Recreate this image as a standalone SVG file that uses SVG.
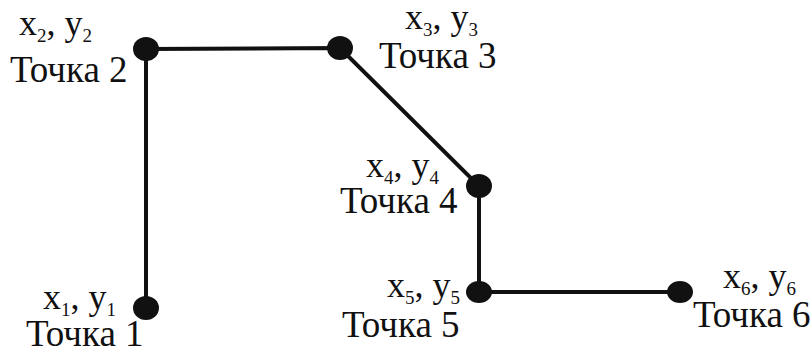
<svg xmlns="http://www.w3.org/2000/svg" width="812" height="350" viewBox="0 0 812 350">
<style>
.ln{stroke:#111;stroke-width:4;fill:none}
.pt{fill:#111}
.t{font-family:"Liberation Serif","Times New Roman",serif;font-size:37px;fill:#111}
.c{font-family:"Liberation Serif","Times New Roman",serif;font-size:36px;fill:#111}
.s{font-size:19px}
</style>
<rect width="812" height="350" fill="#fff"/>
<g id="connectors">
<polyline class="ln" points="146,308 146,49 340,48 479,186 479,292 680,292"/>
</g>
<g id="p1">
<ellipse class="pt" cx="146" cy="308" rx="13" ry="12"/>
<text class="c" x="43" y="309">x<tspan class="s" dy="7">1</tspan><tspan dy="-7">, y</tspan><tspan class="s" dy="7">1</tspan></text>
<text class="t" x="26" y="346">Точка 1</text>
</g>
<g id="p2">
<ellipse class="pt" cx="146" cy="49" rx="13" ry="12"/>
<text class="c" x="19" y="35">x<tspan class="s" dy="7">2</tspan><tspan dy="-7">, y</tspan><tspan class="s" dy="7">2</tspan></text>
<text class="t" x="10" y="82">Точка 2</text>
</g>
<g id="p3">
<ellipse class="pt" cx="340" cy="48" rx="13" ry="12"/>
<text class="c" x="405" y="29">x<tspan class="s" dy="7">3</tspan><tspan dy="-7">, y</tspan><tspan class="s" dy="7">3</tspan></text>
<text class="t" x="379" y="68">Точка 3</text>
</g>
<g id="p4">
<ellipse class="pt" cx="479" cy="186" rx="13" ry="12"/>
<text class="c" x="366" y="177">x<tspan class="s" dy="7">4</tspan><tspan dy="-7">, y</tspan><tspan class="s" dy="7">4</tspan></text>
<text class="t" x="340" y="213">Точка 4</text>
</g>
<g id="p5">
<ellipse class="pt" cx="479" cy="292" rx="13" ry="11"/>
<text class="c" x="387" y="297">x<tspan class="s" dy="7">5</tspan><tspan dy="-7">, y</tspan><tspan class="s" dy="7">5</tspan></text>
<text class="t" x="342" y="337">Точка 5</text>
</g>
<g id="p6">
<ellipse class="pt" cx="680" cy="292" rx="13" ry="11"/>
<text class="c" x="723" y="288">x<tspan class="s" dy="7">6</tspan><tspan dy="-7">, y</tspan><tspan class="s" dy="7">6</tspan></text>
<text class="t" x="693" y="327">Точка 6</text>
</g>
</svg>
